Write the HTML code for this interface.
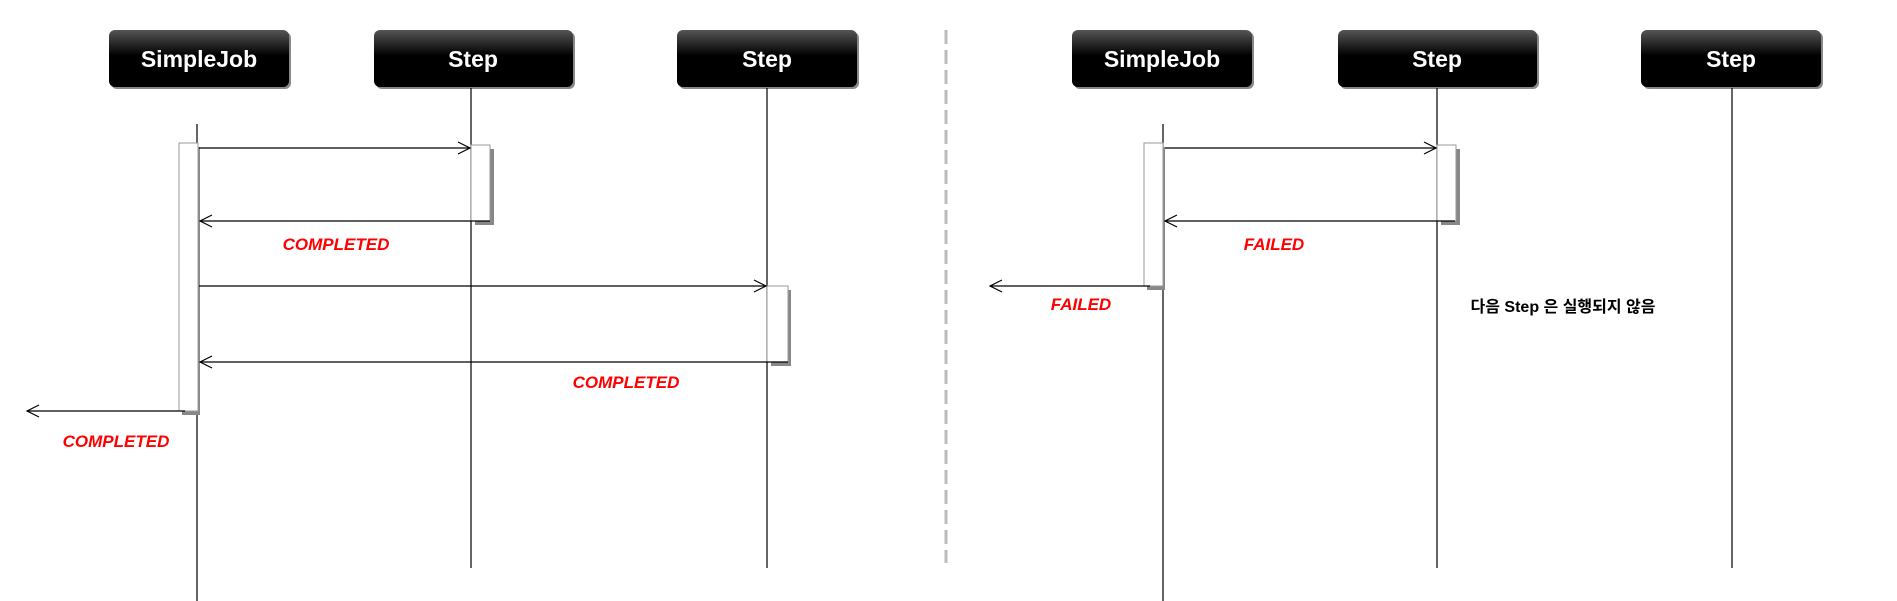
<!DOCTYPE html>
<html><head><meta charset="utf-8"><style>body{margin:0;background:#fff}svg{display:block}</style></head><body>
<svg width="1897" height="601" xmlns="http://www.w3.org/2000/svg" font-family="Liberation Sans, Noto Sans CJK KR, sans-serif">
<defs>
<linearGradient id="g" x1="0" y1="0" x2="0" y2="1"><stop offset="0" stop-color="#555"/><stop offset="0.45" stop-color="#000"/><stop offset="1" stop-color="#000"/></linearGradient>
</defs>
<g font-weight="bold" font-size="23" fill="#fff" text-anchor="middle">
<rect x="111" y="32" width="180" height="57" rx="6" fill="#888"/><rect x="109" y="30" width="180" height="57" rx="6" fill="url(#g)"/><text x="199" y="67">SimpleJob</text>
<rect x="376" y="32" width="199" height="57" rx="6" fill="#888"/><rect x="374" y="30" width="199" height="57" rx="6" fill="url(#g)"/><text x="473" y="67">Step</text>
<rect x="679" y="32" width="180" height="57" rx="6" fill="#888"/><rect x="677" y="30" width="180" height="57" rx="6" fill="url(#g)"/><text x="767" y="67">Step</text>
<rect x="1074" y="32" width="180" height="57" rx="6" fill="#888"/><rect x="1072" y="30" width="180" height="57" rx="6" fill="url(#g)"/><text x="1162" y="67">SimpleJob</text>
<rect x="1340" y="32" width="199" height="57" rx="6" fill="#888"/><rect x="1338" y="30" width="199" height="57" rx="6" fill="url(#g)"/><text x="1437" y="67">Step</text>
<rect x="1643" y="32" width="180" height="57" rx="6" fill="#888"/><rect x="1641" y="30" width="180" height="57" rx="6" fill="url(#g)"/><text x="1731" y="67">Step</text>
</g>
<line x1="946" y1="30" x2="946" y2="563" stroke="#bbb" stroke-width="3" stroke-dasharray="14,6"/>
<g stroke="#000" stroke-width="1.2" fill="none">
<line x1="197" y1="124" x2="197" y2="601"/>
<line x1="471" y1="88" x2="471" y2="568"/>
<line x1="767" y1="88" x2="767" y2="568"/>
<line x1="1163" y1="124" x2="1163" y2="601"/>
<line x1="1437" y1="88" x2="1437" y2="568"/>
<line x1="1732" y1="88" x2="1732" y2="568"/>
</g>
<g fill="#fff" stroke="#999" stroke-width="1">
<rect x="182" y="147" width="18" height="268" fill="#888" stroke="none"/><rect x="179" y="143" width="19" height="268"/>
<rect x="475" y="149" width="19" height="76" fill="#888" stroke="none"/><rect x="471" y="145" width="19" height="76"/>
<rect x="771" y="290" width="20" height="76" fill="#888" stroke="none"/><rect x="767" y="286" width="21" height="76"/>
<rect x="1147" y="147" width="18" height="143" fill="#888" stroke="none"/><rect x="1144" y="143" width="19" height="143"/>
<rect x="1441" y="149" width="19" height="76" fill="#888" stroke="none"/><rect x="1437" y="145" width="19" height="76"/>
</g>
<g stroke="#000" stroke-width="1.2" fill="none">
<line x1="199" y1="148" x2="470" y2="148"/><polyline points="458,142 470,148 458,154"/>
<line x1="200" y1="221" x2="490" y2="221"/><polyline points="212,215 200,221 212,227"/>
<line x1="199" y1="286" x2="766" y2="286"/><polyline points="754,280 766,286 754,292"/>
<line x1="200" y1="362" x2="788" y2="362"/><polyline points="212,356 200,362 212,368"/>
<line x1="27" y1="411" x2="185" y2="411"/><polyline points="39,405 27,411 39,417"/>
<line x1="1165" y1="148" x2="1436" y2="148"/><polyline points="1424,142 1436,148 1424,154"/>
<line x1="1165" y1="221" x2="1455" y2="221"/><polyline points="1177,215 1165,221 1177,227"/>
<line x1="990" y1="286" x2="1150" y2="286"/><polyline points="1002,280 990,286 1002,292"/>
</g>
<g fill="#f00" font-weight="bold" font-style="italic" font-size="17" text-anchor="middle">
<text x="336" y="250">COMPLETED</text>
<text x="626" y="388">COMPLETED</text>
<text x="116" y="447">COMPLETED</text>
<text x="1274" y="250">FAILED</text>
<text x="1081" y="310">FAILED</text>
</g>
<text x="1563" y="312" font-weight="bold" font-size="16" text-anchor="middle" fill="#000">다음  Step  은 실행되지 않음</text>
</svg>
</body></html>
